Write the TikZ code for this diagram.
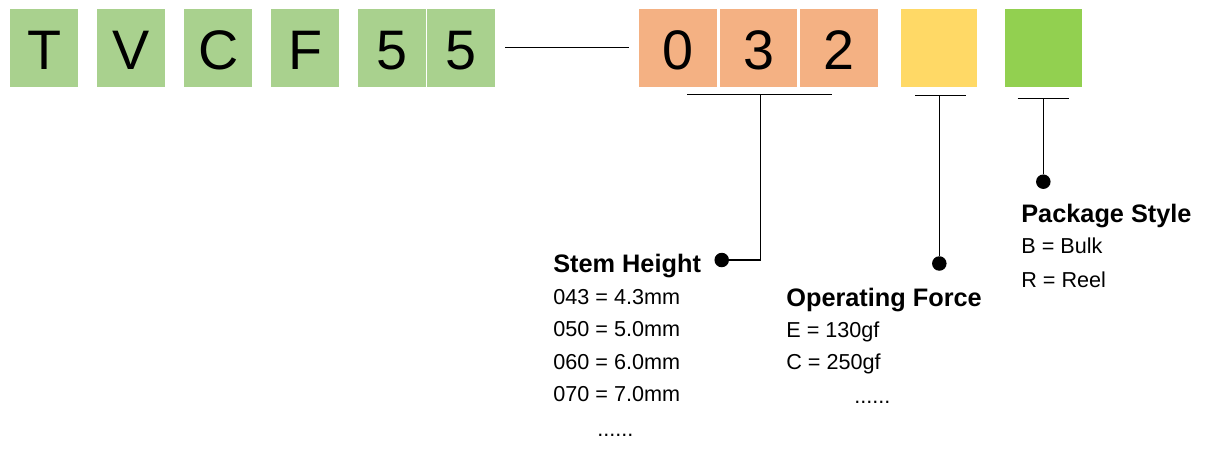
\documentclass[tikz,border=0pt]{standalone}
\usepackage{fontspec}
\setmainfont{Liberation Sans}
\usetikzlibrary{positioning}
\definecolor{lettergreen}{HTML}{A9D18E}
\definecolor{codeorange}{HTML}{F4B183}
\definecolor{forceyellow}{HTML}{FFD966}
\definecolor{packgreen}{HTML}{92D050}
\tikzstyle{letter} = [rectangle, minimum width=1.36cm, minimum height=1.56cm, inner sep=0pt, fill=lettergreen, font=\fontsize{31.7}{36}\selectfont, text height=25.2pt, text depth=0pt]
\tikzstyle{code} = [letter, minimum width=1.555cm, fill=codeorange]
\tikzstyle{bullet} = [circle, minimum size=0.29cm, inner sep=0pt, fill=black]
\tikzstyle{title} = [anchor=base west, inner sep=0pt, font=\fontsize{14.4}{17}\selectfont\bfseries]
\tikzstyle{item} = [anchor=base west, inner sep=0pt, font=\fontsize{12.3}{15}\selectfont]
\tikzstyle{leader} = [line width=0.6pt]

\begin{document}
\begin{tikzpicture}[x=0.02cm, y=-0.02cm, node distance=1.74cm]
\useasboundingbox (0,0) rectangle (1219,450);
% part number boxes
\node (t) [letter] at (44.3,47.8) {T};
\node (v) [letter, right of=t] {V};
\node (c) [letter, right of=v] {C};
\node (f) [letter, right of=c] {F};
\node (five1) [letter, right of=f] {5};
\node (five2) [letter, right of=five1, xshift=-0.36cm] {5};
\node (zero) [code] at (678,47.8) {0};
\node (three) [code, right of=zero, xshift=-0.13cm] {3};
\node (two) [code, right of=three, xshift=-0.13cm] {2};
\node (force) [letter, minimum width=1.535cm, fill=forceyellow, right of=two, xshift=0.26cm] {};
\node (pack) [letter, minimum width=1.555cm, fill=packgreen, right of=force, xshift=0.35cm] {};
\draw [leader, shorten <=0.19cm, shorten >=0.19cm] (five2) -- (zero);
% brackets
\coordinate (stemL) at (687,94.3);
\coordinate (stemR) at (832,94.3);
\coordinate (stemM) at (760.3,94.3);
\coordinate (forceL) at (915,95.3);
\coordinate (forceR) at (965.7,95.3);
\coordinate (forceM) at (939.3,95.3);
\coordinate (packL) at (1017.7,98.3);
\coordinate (packR) at (1068.7,98.3);
\coordinate (packM) at (1043.3,98.3);
\node (stemdot) [bullet] at (721.7,260) {};
\node (forcedot) [bullet] at (939.3,263.5) {};
\node (packdot) [bullet] at (1043.3,181.7) {};
\draw [leader] (stemL) -- (stemR);
\draw [leader] (stemM) |- (stemdot);
\draw [leader] (forceL) -- (forceR);
\draw [leader] (forceM) -- (forcedot);
\draw [leader] (packL) -- (packR);
\draw [leader] (packM) -- (packdot);
% legends
\node (stem) [title] at (553,272) {Stem Height};
\node (stem1) [below=0.645cm of stem.base west, item] {043 = 4.3mm};
\node (stem2) [below=0.65cm of stem1.base west, item] {050 = 5.0mm};
\node (stem3) [below=0.65cm of stem2.base west, item] {060 = 6.0mm};
\node (stem4) [below=0.65cm of stem3.base west, item] {070 = 7.0mm};
\node (stem5) [below=0.7cm of stem4.base west, xshift=0.88cm, item] {......};
\node (op) [title] at (786,306) {Operating Force};
\node (op1) [below=0.635cm of op.base west, item] {E = 130gf};
\node (op2) [below=0.645cm of op1.base west, item] {C = 250gf};
\node (op3) [below=0.68cm of op2.base west, xshift=1.36cm, item] {......};
\node (pk) [title] at (1021,222) {Package Style};
\node (pk1) [below=0.62cm of pk.base west, item] {B = Bulk};
\node (pk2) [below=0.7cm of pk1.base west, item] {R = Reel};
\end{tikzpicture}
\end{document}
